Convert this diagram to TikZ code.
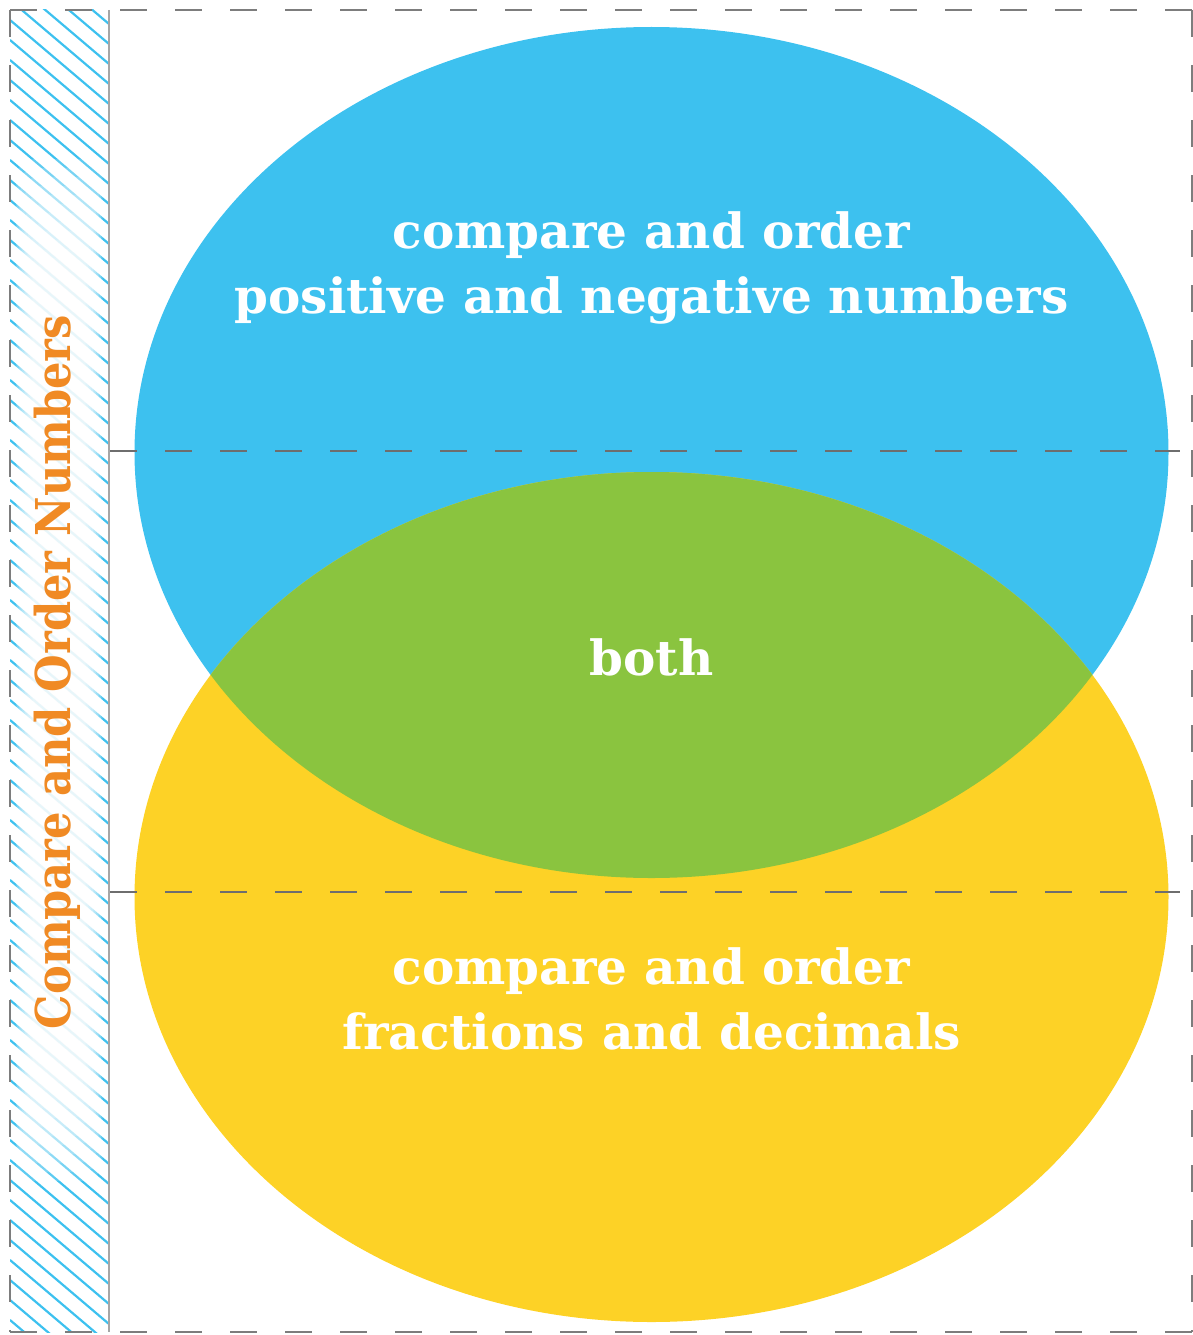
\documentclass[tikz,border=0pt]{standalone}
\usepackage{fontspec}
\setmainfont{DejaVu Serif}
\definecolor{vblue}{HTML}{3DC1EF}
\definecolor{vyellow}{HTML}{FDD226}
\definecolor{vgreen}{HTML}{8AC43F}
\definecolor{vorange}{HTML}{F08A24}
\definecolor{vgray}{HTML}{6E6E6E}
\tikzset{
  vtext/.style={text=white, font=\bfseries\fontsize{48.5}{65}\selectfont, align=center},
  vdash/.style={draw=vgray, line width=2.2pt, dash pattern=on 27pt off 28pt},
  bdash/.style={draw=vgray!90, line width=2pt, dash pattern=on 27pt off 28pt},
  hatch/.style={draw=vblue, line width=2.2pt},
}
\begin{document}
\begin{tikzpicture}[x=1pt,y=-1pt]
\useasboundingbox (0,0) rectangle (1193,1335);
% hatched strip
\begin{scope}
\clip (10,10) rectangle (109,1332);
\foreach \k in {-8,...,72} {
  \draw[hatch] (10,{\k*20}) -- (109,{\k*20+84});
}
\foreach \i in {1,...,12} {
  \fill[white, opacity=0.17, rounded corners=20pt] ({14+\i*1.6},{150+\i*9}) rectangle ({104-\i*1.6},{1190-\i*9});
}
\end{scope}
% ellipses
\fill[vblue] (651.5,452.5) ellipse [x radius=517, y radius=425.5];
\fill[vyellow] (651.5,897) ellipse [x radius=517, y radius=425];
\begin{scope}
\clip (651.5,452.5) ellipse [x radius=517, y radius=425.5];
\fill[vgreen] (651.5,897) ellipse [x radius=517, y radius=425];
\end{scope}
% dashed lines
\coordinate (l1a) at (110,451);
\coordinate (l1b) at (1180,451);
\coordinate (l2a) at (110,892);
\coordinate (l2b) at (1180,892);
\draw[vdash] (l1a) -- (l1b);
\draw[vdash] (l2a) -- (l2b);
% border
\draw[bdash] (10,10) -- (1192,10);
\draw[bdash] (10,1332) -- (1192,1332);
\draw[bdash] (10,10) -- (10,1332);
\draw[bdash] (1192,10) -- (1192,1332);
\draw[draw=gray!70, line width=2pt] (109,10) -- (109,1332);
% texts
\node[vtext] (top) at (651.5,268) {compare and order\\positive and negative numbers};
\node[vtext] (both) at (651.5,657) {both};
\node[vtext] (bot) at (651.5,999) {compare and order\\fractions and decimals};
\node[text=vorange, font=\bfseries\fontsize{48}{56}\selectfont, rotate=90] (side) at (57,672) {\scalebox{0.9}[1]{Compare and Order Numbers}};
\end{tikzpicture}
\end{document}
